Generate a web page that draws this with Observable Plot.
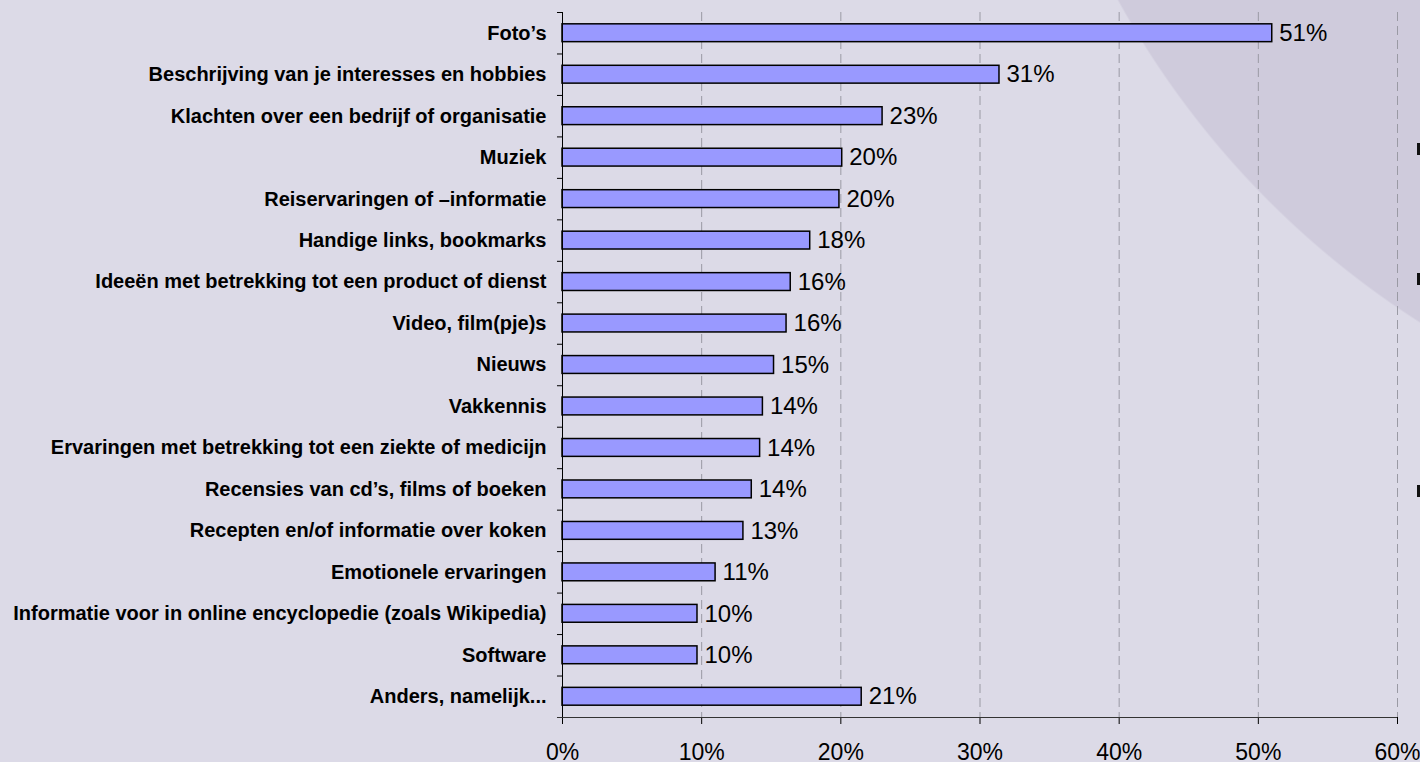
<!DOCTYPE html>
<html>
<head>
<meta charset="utf-8">
<script src="https://cdn.jsdelivr.net/npm/d3@7"></script>
<script src="https://cdn.jsdelivr.net/npm/@observablehq/plot@0.6"></script>
<style>
  html, body { margin: 0; padding: 0; }
  body {
    width: 1420px; height: 762px; overflow: hidden; position: relative;
    background: radial-gradient(circle 892px at 1899px -429px, #cfcbdc 99.8%, #dcdae7 100%);
    font-family: Arial, "Liberation Sans", sans-serif;
  }
  #chart svg { display: block; background: transparent !important; }
  g[aria-label^="y-axis"] text { font-weight: bold; font-size: 20px; fill: #000; }
  g[aria-label^="x-axis"] text { font-size: 23px; fill: #000; }
  .mark { position: absolute; left: 1417px; width: 3px; height: 12px; background: #111; }
</style>
</head>
<body>
<div id="chart"></div>
<div class="mark" style="top:143px"></div>
<div class="mark" style="top:273px"></div>
<div class="mark" style="top:485px"></div>
<script>
const categories = [
  "Foto’s",
  "Beschrijving van je interesses en hobbies",
  "Klachten over een bedrijf of organisatie",
  "Muziek",
  "Reiservaringen of –informatie",
  "Handige links, bookmarks",
  "Ideeën met betrekking tot een product of dienst",
  "Video, film(pje)s",
  "Nieuws",
  "Vakkennis",
  "Ervaringen met betrekking tot een ziekte of medicijn",
  "Recensies van cd’s, films of boeken",
  "Recepten en/of informatie over koken",
  "Emotionele ervaringen",
  "Informatie voor in online encyclopedie (zoals Wikipedia)",
  "Software",
  "Anders, namelijk..."
];
const values = [51.0, 31.4, 23.0, 20.1, 19.9, 17.8, 16.4, 16.1, 15.2, 14.4, 14.2, 13.6, 13.0, 11.0, 9.7, 9.7, 21.5];
const valueLabels = ["51%", "31%", "23%", "20%", "20%", "18%", "16%", "16%", "15%", "14%", "14%", "14%", "13%", "11%", "10%", "10%", "21%"];
const xTicks = [0, 10, 20, 30, 40, 50, 60];

const data = categories.map((c, i) => ({category: c, value: values[i], label: valueLabels[i]}));

const W = 1420, H = 762, mT = 12, mB = 45, mL = 562, mR = 23;
const step = (H - mT - mB) / categories.length;
const tickLen = -0.36; // small outward tick in data units

const chart = Plot.plot({
  width: W, height: H,
  marginLeft: mL, marginRight: mR, marginTop: mT, marginBottom: mB,
  style: {background: "transparent", fontFamily: "Arial, 'Liberation Sans', sans-serif", overflow: "visible"},
  x: {domain: [0, 60], ticks: xTicks, tickFormat: d => d + "%", tickSize: 7, tickPadding: 19, label: null},
  y: {domain: categories, paddingInner: 0.57, paddingOuter: 0.285, round: false, tickSize: 0, tickPadding: 16, label: null},
  marks: [
    Plot.ruleX(xTicks.slice(1), {stroke: "#9a9aa4", strokeWidth: 1, strokeDasharray: "9,5"}),
    Plot.barX(data, {y: "category", x: "value", fill: "#9999ff", stroke: "#000", strokeWidth: 1.5}),
    Plot.text(data, {y: "category", x: "value", text: "label", textAnchor: "start", dx: 7, fontSize: 24, fill: "#000"}),
    Plot.ruleX([0], {stroke: "#000", strokeWidth: 1}),
    Plot.ruleY(categories, {y: d => d, x1: tickLen, x2: 0, dy: -step / 2, stroke: "#000", strokeWidth: 1}),
    Plot.ruleY(categories.slice(-1), {y: d => d, x1: tickLen, x2: 60, dy: step / 2, stroke: "#333", strokeWidth: 1.2})
  ]
});
document.getElementById("chart").appendChild(chart);
</script>
</body>
</html>
